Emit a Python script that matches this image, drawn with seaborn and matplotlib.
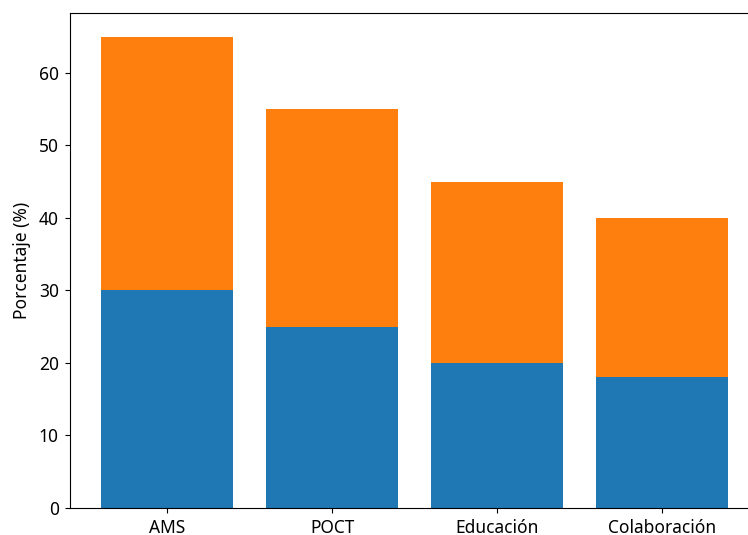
import pandas as pd
import seaborn as sns
import matplotlib.pyplot as plt

categorias = ["AMS", "POCT", "Educación", "Colaboración"]
base = [30, 25, 20, 18]
extra = [35, 30, 25, 22]

total = [b + e for b, e in zip(base, extra)]
df = pd.DataFrame({"cat": categorias, "base": base, "total": total})

plt.rcParams['font.family'] = ['Noto Sans', 'DejaVu Sans']
plt.rcParams['font.size'] = 12.5

fig = plt.figure(figsize=(7.48, 5.35), dpi=100)
ax = fig.add_axes([70 / 748, 27 / 535, 689.5 / 748, 495 / 535])

# orange part drawn as full height, blue part on top of it
sns.barplot(data=df, x="cat", y="total", color="#ff7f0e", saturation=1,
            width=0.8, linewidth=0, ax=ax)
sns.barplot(data=df, x="cat", y="base", color="#1f77b4", saturation=1,
            width=0.8, linewidth=0, ax=ax)

ax.set_xlim(-0.59, 3.59)
ax.set_ylim(0, max(total) * 1.05)
ax.set_xlabel("")
ax.set_ylabel("Porcentaje (%)", labelpad=6)
ax.tick_params(axis="both", pad=4.5)

fig.savefig("out.png", dpi=100)
